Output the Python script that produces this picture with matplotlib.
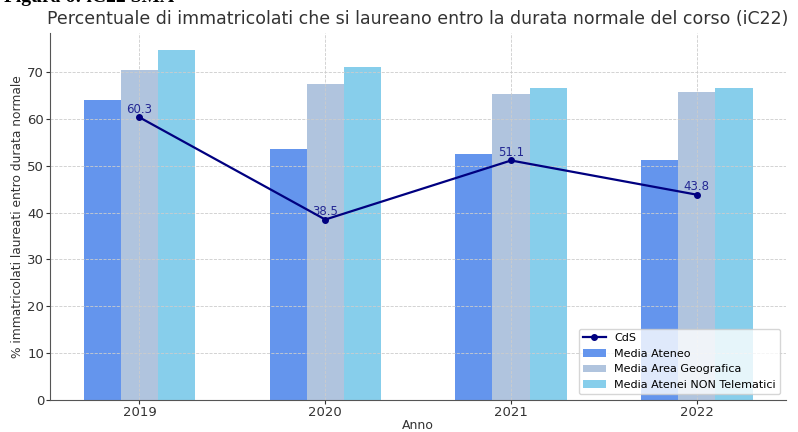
import numpy as np
import matplotlib.pyplot as plt

anni = ["2019", "2020", "2021", "2022"]
cds = [60.3, 38.5, 51.1, 43.8]
media_ateneo = [64.1, 53.5, 52.5, 51.1]
media_area = [70.5, 67.4, 65.3, 65.7]
media_non_tel = [74.6, 71.0, 66.6, 66.5]

x = np.arange(len(anni))
w = 0.2

fig = plt.figure(figsize=(7.98, 4.32), dpi=100)
ax = fig.add_axes([0.063, 0.074, 0.922, 0.85])

ax.plot(x, cds, color="navy", marker="o", markersize=4, linewidth=1.6, label="CdS", zorder=3)
ax.bar(x - w, media_ateneo, w, color="#6495ED", label="Media Ateneo")
ax.bar(x, media_area, w, color="#B0C4DE", label="Media Area Geografica")
ax.bar(x + w, media_non_tel, w, color="#87CEEB", label="Media Atenei NON Telematici")

for xi, v in zip(x, cds):
    ax.annotate(f"{v}", (xi, v), textcoords="offset points", xytext=(0, 1),
                ha="center", va="bottom", fontsize=8.5, color="navy", alpha=0.8)

ax.set_xticks(x)
ax.set_xticklabels(anni)
ax.tick_params(labelsize=9.5, colors="#333333", pad=1.5, length=3)
ax.set_xlabel("Anno", fontsize=9, color="#333333", labelpad=0)
ax.set_ylabel("% immatricolati laureati entro durata normale", fontsize=8.8,
              color="#333333", labelpad=2)
ax.set_title("Percentuale di immatricolati che si laureano entro la durata normale del corso (iC22)",
             fontsize=12.5, color="#333333", pad=6)
ax.grid(True, linestyle="--", linewidth=0.6, color="#cccccc")
for s in ["top", "right"]:
    ax.spines[s].set_visible(False)
for s in ["left", "bottom"]:
    ax.spines[s].set_color("#555555")

ax.legend(loc="lower right", fontsize=8)

fig.text(0.005, 1.006, "Figura 6: iC22 SMA", fontsize=14, fontweight="bold",
         family="Liberation Serif", va="center", ha="left")

fig.savefig("out.png", dpi=100)
